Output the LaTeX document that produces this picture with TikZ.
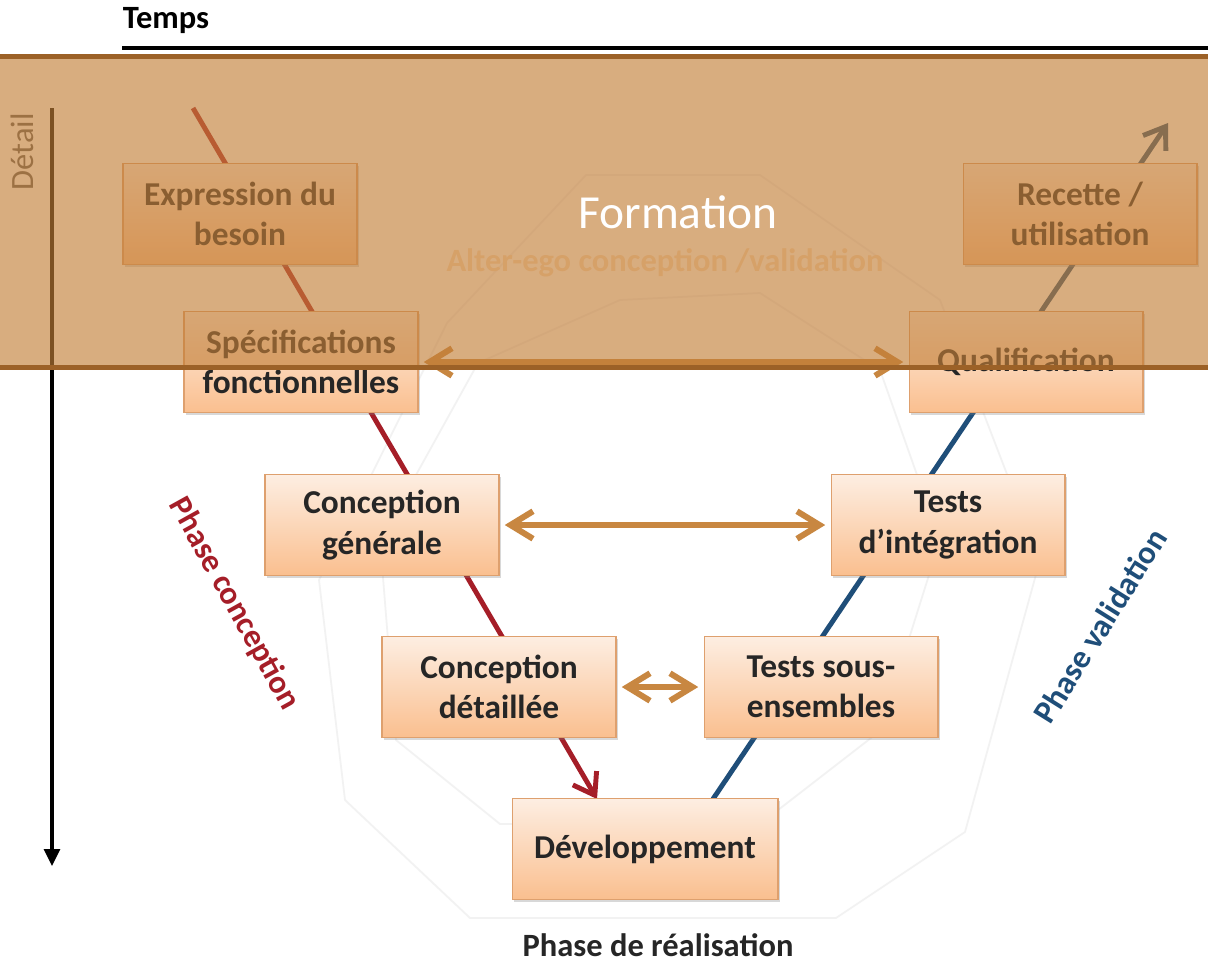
\documentclass[tikz,border=0pt]{standalone}
\usepackage{fontspec}
\setmainfont{Carlito}
\usepackage{xcolor}
\usepackage{tikz}
\usetikzlibrary{arrows.meta, positioning, shadows}
\definecolor{conred}{RGB}{165,30,40}
\definecolor{valblue}{RGB}{31,78,121}
\definecolor{linktan}{RGB}{200,135,65}
\definecolor{boxtop}{RGB}{253,238,226}
\definecolor{boxbot}{RGB}{250,191,143}
\definecolor{boxline}{RGB}{222,160,110}
\definecolor{bandfill}{RGB}{195,127,56}
\definecolor{bandline}{RGB}{156,97,39}
\definecolor{txtdark}{RGB}{38,38,38}
\definecolor{egotxt}{RGB}{250,222,190}
\definecolor{faint}{RGB}{242,242,242}
\tikzstyle{vbox}   = [rectangle, draw=boxline, line width=0.6pt, top color=boxtop, bottom color=boxbot,
                       minimum width=4.68cm, minimum height=2.02cm, align=center, text=txtdark,
                       font=\fontsize{19}{23}\selectfont\bfseries,
                       drop shadow={shadow xshift=1.2pt, shadow yshift=-1.5pt, opacity=0.3}]
\tikzstyle{link}   = [{Straight Barb[length=4.5mm, width=5.5mm]}-{Straight Barb[length=4.5mm, width=5.5mm]},
                       line width=3.4pt, draw=linktan, shorten <=3pt, shorten >=3pt]
\tikzstyle{vline}  = [line width=2.8pt, -{Straight Barb[length=4mm, width=5.5mm]}]
\tikzstyle{lbl}    = [font=\fontsize{18.5}{22.5}\selectfont\bfseries, inner sep=1pt]

\begin{document}
\begin{tikzpicture}[x=0.02cm, y=-0.02cm,
      faintline/.style={draw=faint, line width=1pt, line join=round},
      band/.style={rectangle, fill=bandfill, fill opacity=0.64, inner sep=0pt,
                   minimum width=24.16cm, minimum height=6.2cm},
      bandedge/.style={draw=bandline, line width=2.6pt},
    ]
    \useasboundingbox (0,0) rectangle (1208,964);
    \fill[white] (0,0) rectangle (1208,964);

    \draw[faintline] (586,175) -- (760,175) -- (940,300) -- (1040,560) -- (965,832)
      -- (836,918) -- (470,918) -- (345,800) -- (319,580) -- (447,323) -- cycle;
    \draw[faintline] (620,300) -- (760,293) -- (880,370) -- (940,540) -- (880,731)
      -- (760,824) -- (500,824) -- (396,740) -- (380,540) -- (478,363) -- cycle;

    \node[lbl] (temps) at (166,21) {Temps};
    \coordinate (tstart) at (122,48);
    \coordinate (tend) at (1208,48);
    \draw[line width=2.2pt] (tstart) -- (tend);

    \coordinate (dtop) at (52,108);
    \coordinate (dbot) at (52,866);
    \draw[line width=1.8pt, -{Triangle[length=3.4mm, width=3.2mm]}] (dtop) -- (dbot);
    \node[lbl, font=\fontsize{18.5}{22.5}\selectfont, text=black!65, rotate=90] (detail) at (22,152) {Détail};

    \coordinate (cstart) at (193,108);
    \coordinate (vend) at (1168,123);
    \coordinate (cend) at (597,799);
    \coordinate (vstart) at (713,799);
    \draw[vline, draw=conred] (cstart) -- (cend);
    \draw[vline, draw=valblue] (vstart) -- (vend);

    \node[vbox] (exp)   at (240,214) {Expression du\\besoin};
    \node[vbox] (spec)  at (301,362) {Spécifications\\fonctionnelles};
    \node[vbox] (cgen)  at (382,525) {Conception\\générale};
    \node[vbox] (cdet)  at (499,687) {Conception\\détaillée};
    \node[vbox, minimum width=5.32cm] (dev) at (645,849) {Développement};
    \node[vbox] (tsous) at (821,687) {Tests sous-\\ensembles};
    \node[vbox] (tint)  at (948,525) {Tests\\d’intégration};
    \node[vbox] (qual)  at (1026,362) {Qualification};
    \node[vbox] (rec)   at (1080,214) {Recette /\\utilisation};

    \node[lbl, text=conred, rotate=-61] (pcon) at (234,604) {Phase conception};
    \node[lbl, text=valblue, rotate=58] (pval) at (1100,626) {Phase validation};
    \node[lbl, text=txtdark] (preal) at (658,945) {Phase de réalisation};
    \node[lbl, text=egotxt] (ego) at (665,263) {Alter-ego conception /validation};

    \draw[link] (spec.east) -- (qual.west);
    \draw[link] (cgen.east) -- (tint.west);
    \draw[link] (cdet.east) -- (tsous.west);

    \node[band] (form) at (604,212) {};
    \draw[bandedge] (form.north west) -- (form.north east);
    \draw[bandedge] (form.south west) -- (form.south east);
    \node[font=\fontsize{27}{32}\selectfont, text=white] (formlbl) at (678,212) {Formation};
  \end{tikzpicture}
\end{document}
